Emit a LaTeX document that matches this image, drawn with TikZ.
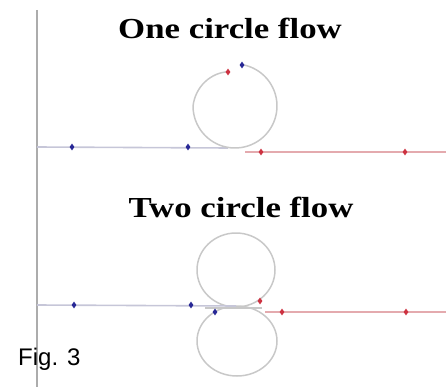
\documentclass[tikz,border=0pt]{standalone}
\usepackage{fontspec}
\setmainfont{Liberation Serif}
\setsansfont{Liberation Sans}
\usepackage{tikz}
\usetikzlibrary{shapes.geometric}

\definecolor{rimgray}{RGB}{200,200,200}
\definecolor{inline}{RGB}{198,198,216}
\definecolor{outline}{RGB}{228,170,174}
\definecolor{inmark}{RGB}{40,40,150}
\definecolor{outmark}{RGB}{205,50,65}

\begin{document}
\begin{tikzpicture}[x=1pt,y=-1pt,
   ttl/.style={font=\fontsize{29}{29}\selectfont\bfseries,xscale=1.2,inner sep=0,anchor=base},
   rim/.style={draw=rimgray,line width=1.5pt},
   mk/.style n args={1}{diamond,fill=#1,inner sep=0,minimum width=5pt,minimum height=7pt},
   declare function={loopr(\t)=42+min(0,7*(\t+180)/78);}]
\useasboundingbox (0,0) rectangle (446,387);
\draw[gray!65,line width=1.4pt] (37,10) -- (37,387);
\node[ttl] (t1) at (230,39) {One circle flow};
\node[ttl] (t2) at (241,217) {Two circle flow};
\node[font=\sffamily\fontsize{24}{24}\selectfont,inner sep=0,anchor=base west] (fig) at (18,365) {Fig. 3};
% one circle
\draw[inline,line width=1.6pt] (37,147) -- (228,148);
\draw[rim] plot[smooth,domain=80:-258,samples=70,variable=\t]
   ({235+loopr(\t)*cos(\t)},{106-loopr(\t)*sin(\t)});
\draw[outline,line width=1.6pt] (245,152) -- (446,152);
% two circles
\draw[rim] (236,270) ellipse [x radius=39,y radius=37];
\draw[rim] (237,341) ellipse [x radius=40,y radius=35];
\draw[inline,line width=1.6pt] (37,305) -- (236,306);
\draw[rim] (205,308) -- (262,308);
\draw[outline,line width=1.6pt] (265,312) -- (446,312);
% markers
\foreach \x/\y/\c in %
{72/147/inmark,188/147/inmark,242/65/inmark,261/152/outmark,405/152/outmark,228/72/outmark,
 74/305/inmark,191/305/inmark,215/312/inmark,260/301/outmark,282/312/outmark,406/312/outmark} {
   \node[mk=\c] (m\x) at (\x,\y) {};
}
\end{tikzpicture}
\end{document}
